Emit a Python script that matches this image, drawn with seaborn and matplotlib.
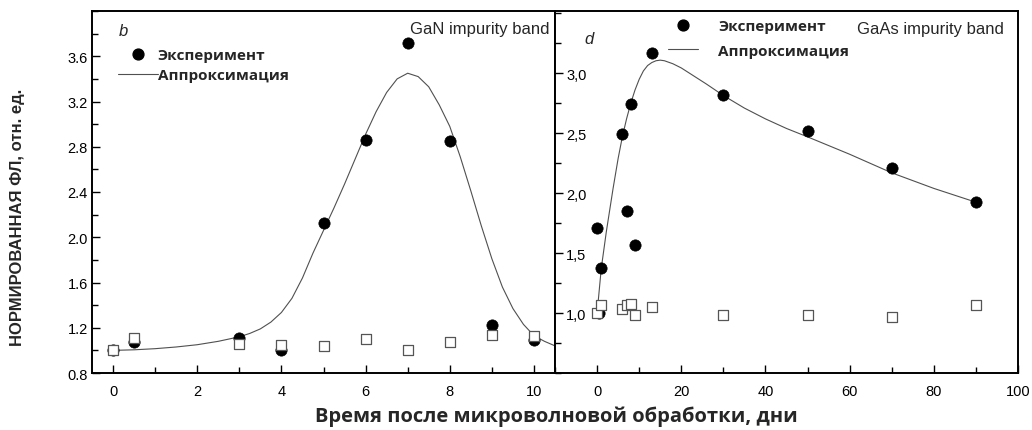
import matplotlib
matplotlib.use("Agg")
import matplotlib.pyplot as plt
import seaborn as sns
from matplotlib.lines import Line2D
from matplotlib.ticker import MultipleLocator

# ---------------- data ----------------
# GaN panel (b)
gan_days = [0, 0.5, 3, 4, 5, 6, 7, 8, 9, 10]
gan_exp = [1.00, 1.07, 1.105, 1.00, 2.13, 2.86, 3.72, 2.85, 1.22, 1.09]
gan_ref_days = [0, 0.5, 3, 4, 5, 6, 7, 8, 9, 10]
gan_ref = [1.00, 1.11, 1.06, 1.05, 1.04, 1.10, 1.00, 1.075, 1.135, 1.13]
gan_fit_days = [0, 0.5, 1.0, 1.5, 2.0, 2.5, 3.0, 3.25, 3.5, 3.75, 4.0, 4.25,
                4.5, 4.75, 5.0, 5.25, 5.5, 5.75, 6.0, 6.25, 6.5, 6.75, 7.0,
                7.25, 7.5, 7.75, 8.0, 8.25, 8.5, 8.75, 9.0, 9.25, 9.5, 9.75,
                10.0, 10.25, 10.5]
gan_fit = [1.00, 1.005, 1.015, 1.03, 1.05, 1.08, 1.12, 1.15, 1.19, 1.25, 1.335,
           1.46, 1.64, 1.86, 2.06, 2.26, 2.47, 2.69, 2.91, 3.11, 3.28, 3.40,
           3.45, 3.42, 3.33, 3.17, 2.98, 2.71, 2.41, 2.10, 1.81, 1.56, 1.37,
           1.23, 1.13, 1.08, 1.04]

# GaAs panel (d)
gaas_days = [0, 0.4, 1, 6, 7, 8, 9, 13, 30, 50, 70, 90]
gaas_exp = [1.71, 1.00, 1.375, 2.49, 1.85, 2.74, 1.57, 3.17, 2.82, 2.52, 2.21, 1.925]
gaas_ref_days = [0, 1, 6, 7, 8, 9, 13, 30, 50, 70, 90]
gaas_ref = [1.00, 1.07, 1.036, 1.07, 1.077, 0.986, 1.047, 0.986, 0.986, 0.964, 1.067]
gaas_fit_days = [0, 1.0, 2.2, 3.8, 5.0, 6.0, 7.0, 8.0, 9.0, 10.0, 11.0, 12.0,
                 13.0, 14.0, 15.0, 16.0, 18.0, 20.0, 22.0, 26.0, 30.0, 35.0,
                 40.0, 45.0, 50.0, 60.0, 70.0, 80.0, 90.0]
gaas_fit = [1.00, 1.375, 1.68, 2.04, 2.29, 2.47, 2.62, 2.75, 2.86, 2.95, 3.02,
            3.065, 3.09, 3.105, 3.11, 3.105, 3.08, 3.045, 3.00, 2.91, 2.815,
            2.71, 2.62, 2.54, 2.47, 2.325, 2.17, 2.04, 1.925]

# tick labels
gan_yticks = [0.8, 1.2, 1.6, 2.0, 2.4, 2.8, 3.2, 3.6]
gan_ytick_labels = ["0.8", "1.2", "1.6", "2.0", "2.4", "2.8", "3.2", "3.6"]
gaas_yticks = [1.0, 1.5, 2.0, 2.5, 3.0]
gaas_ytick_labels = ["1,0", "1,5", "2,0", "2,5", "3,0"]
gan_xticks = [0, 2, 4, 6, 8, 10]
gaas_xticks = [0, 20, 40, 60, 80, 100]

legend_labels = ["Эксперимент", "Аппроксимация"]
xlabel = "Время после микроволновой обработки, дни"
ylabel = "НОРМИРОВАННАЯ ФЛ, отн. ед."

# ---------------- style ----------------
sns.set_style("ticks")
plt.rcParams["font.family"] = ["Liberation Sans", "DejaVu Sans"]

W, H = 1032, 431
fig = plt.figure(figsize=(W / 100, H / 100), dpi=100)

def box(x0, y0, x1, y1):
    return [x0 / W, 1 - y1 / H, (x1 - x0) / W, (y1 - y0) / H]

ax1 = fig.add_axes(box(92, 12, 555, 374))
ax2 = fig.add_axes(box(555, 12, 1018, 374))

circ_kw = dict(color="black", marker="o", s=66, edgecolor="black", linewidth=0.5, zorder=3)
sq_kw = dict(color="white", marker="s", s=46, edgecolor="#555555", linewidth=0.9, zorder=4)
line_kw = dict(color="#505050", linewidth=0.8, zorder=2, estimator=None, sort=False)

for ax, dx, dy, rx, ry, fx, fy in [
    (ax1, gan_days, gan_exp, gan_ref_days, gan_ref, gan_fit_days, gan_fit),
    (ax2, gaas_days, gaas_exp, gaas_ref_days, gaas_ref, gaas_fit_days, gaas_fit),
]:
    sns.lineplot(x=fx, y=fy, ax=ax, **line_kw)
    sns.scatterplot(x=dx, y=dy, ax=ax, **circ_kw)
    sns.scatterplot(x=rx, y=ry, ax=ax, **sq_kw)
    for s in ax.spines.values():
        s.set_linewidth(1.4)
        s.set_color("black")
    ax.set_xlabel("")
    ax.set_ylabel("")

# left axes
ax1.set_xlim(-0.5, 10.5)
ax1.set_ylim(0.8, 4.0)
ax1.set_xticks(gan_xticks)
ax1.set_xticklabels([str(t) for t in gan_xticks])
ax1.xaxis.set_minor_locator(MultipleLocator(1))
ax1.set_yticks(gan_yticks)
ax1.set_yticklabels(gan_ytick_labels)
ax1.yaxis.set_minor_locator(MultipleLocator(0.2))
ax1.tick_params(which="both", direction="in", width=1.0, colors="black",
                labelsize=10.5, top=False, right=False)
ax1.tick_params(which="major", length=6)
ax1.tick_params(which="minor", length=4)
ax1.tick_params(axis="x", which="major", pad=8)
ax1.tick_params(axis="y", which="major", pad=3)

# right axes
ax2.set_xlim(-10, 100)
ax2.set_ylim(0.5, 3.52)
ax2.set_xticks(gaas_xticks)
ax2.set_xticklabels([str(t) for t in gaas_xticks])
ax2.xaxis.set_minor_locator(MultipleLocator(10))
ax2.set_yticks(gaas_yticks)
ax2.set_yticklabels(gaas_ytick_labels)
ax2.yaxis.set_minor_locator(MultipleLocator(0.25))
ax2.tick_params(which="both", direction="in", width=1.0, colors="black",
                labelsize=10.5, top=False, right=False)
ax2.tick_params(which="major", length=6)
ax2.tick_params(which="minor", length=4)
ax2.tick_params(axis="x", which="major", pad=8)
ax2.tick_params(axis="y", which="major", pad=-8)
for lab in ax2.get_yticklabels():
    lab.set_horizontalalignment("left")

# legends
bold_font = {"family": ["Open Sans", "DejaVu Sans"], "weight": "bold", "size": 11}
h_exp = Line2D([], [], color="black", marker="o", linestyle="none", markersize=7.8)
h_fit = Line2D([], [], color="#505050", linewidth=0.8)

ax1.legend([h_exp, h_fit], legend_labels, loc="upper left",
           bbox_to_anchor=((118 - 92) / 463, (374 - 49) / 362), frameon=False,
           prop=bold_font, handlelength=2.6, handletextpad=0.0,
           labelspacing=0.42, borderpad=0, borderaxespad=0)
ax2.legend([h_exp, h_fit], legend_labels, loc="upper left",
           bbox_to_anchor=((668 - 555) / 464, (374 - 20) / 362), frameon=False,
           prop=bold_font, handlelength=2.0, handletextpad=1.3,
           labelspacing=0.7, borderpad=0, borderaxespad=0)

# annotations
ax1.text((123 - 92) / 463, (374 - 32) / 362, "b", transform=ax1.transAxes,
         fontsize=12, style="italic", ha="center", va="center")
ax1.text((410 - 92) / 463, (374 - 30) / 362, "GaN impurity band", transform=ax1.transAxes,
         fontsize=12, ha="left", va="center")
ax2.text((589 - 555) / 464, (374 - 40) / 362, "d", transform=ax2.transAxes,
         fontsize=12, style="italic", ha="center", va="center")
ax2.text((858 - 555) / 464, (374 - 30) / 362, "GaAs impurity band", transform=ax2.transAxes,
         fontsize=12, ha="left", va="center")

# axis titles
fig.text(556 / W, 1 - 417 / H, xlabel, ha="center", va="center",
         fontsize=14.5, fontweight="bold", family=["Open Sans", "DejaVu Sans"])
fig.text(18 / W, 1 - 217 / H, ylabel, ha="center", va="center", rotation=90,
         fontsize=12, fontweight="bold")

fig.savefig("out.png", dpi=100)
